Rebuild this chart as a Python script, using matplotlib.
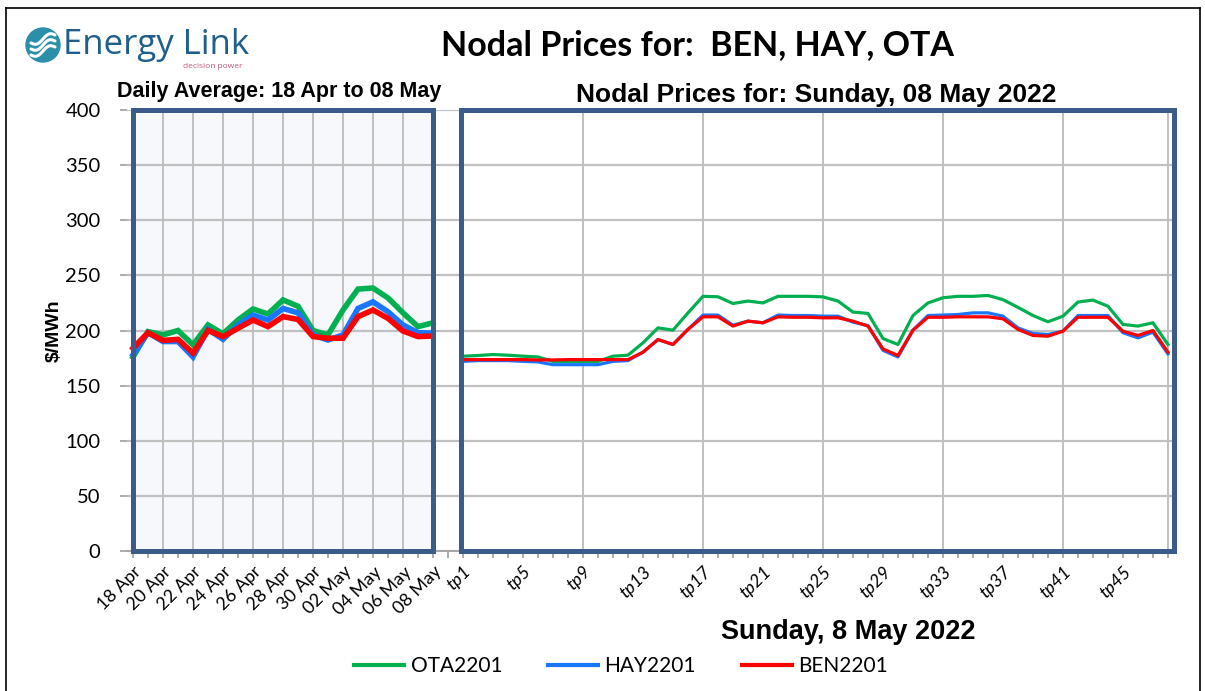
import matplotlib
matplotlib.use("Agg")
import matplotlib.pyplot as plt
from matplotlib.patches import Rectangle, Circle
from matplotlib.lines import Line2D
import numpy as np

# ---------------- data ----------------
day_labels = ['18 Apr', '19 Apr', '20 Apr', '21 Apr', '22 Apr', '23 Apr', '24 Apr',
              '25 Apr', '26 Apr', '27 Apr', '28 Apr', '29 Apr', '30 Apr', '01 May',
              '02 May', '03 May', '04 May', '05 May', '06 May', '07 May', '08 May']
day_ota = [176, 199, 196, 200, 187, 205, 197, 209.5, 219.5, 215, 227.7, 222, 200, 196,
           218.6, 237.6, 238.5, 229.5, 216, 203.5, 207]
day_hay = [178, 198, 190, 190, 176, 201, 192, 205, 214, 209.5, 220, 216, 196, 191.4,
           196, 220, 226, 217, 205, 198, 197.7]
day_ben = [184, 198, 191, 192, 179.5, 200, 194.5, 202, 209.5, 203.5, 212.6, 210, 194.5,
           193, 193, 212.6, 218.6, 211, 199.5, 194.5, 195]

tp_labels = ['tp%d' % i for i in range(1, 49)]
tp_ota = [176.7, 177.3, 178.2, 177.6, 176.7, 176, 172, 172, 172, 172, 176.7, 177.6,
          188.8, 202.4, 200.3, 216, 231, 230.6, 224.5, 226.7, 225, 231, 231, 231,
          230.5, 226.7, 216.7, 215.5, 192.7, 187.3, 213.6, 225, 229.7, 231, 231, 231.8,
          228, 221, 213.6, 207.9, 213, 225.8, 227.6, 222, 205.5, 204, 207, 187.3]
tp_hay = [172, 172.7, 172.7, 172.7, 172, 171.5, 169, 169, 169, 169, 172, 172.7,
          180.3, 191.8, 187.3, 201, 214, 214, 204.8, 208.5, 207, 214, 213.6, 213.6,
          213, 213, 207.6, 204.5, 182, 176, 200.3, 213.6, 214, 214.5, 216, 216,
          213, 202.4, 197.3, 196.4, 199.4, 213.6, 213.6, 213.6, 198, 193.3, 198.5, 178.8]
tp_ben = [173.6, 173.6, 173.6, 173.6, 173.6, 173.3, 173.3, 173.6, 173.6, 173.6, 173.6, 173.6,
          180.3, 191.8, 187.3, 201, 212.4, 212.4, 204, 208.5, 207, 212.4, 212, 212,
          211.5, 211.5, 208.5, 204, 183.3, 177.3, 200.3, 212, 212, 212.4, 212.4, 212.4,
          210.6, 201, 195.5, 194.8, 199.4, 212, 212, 212, 199.4, 195.5, 200, 180.3]

series_names = ['OTA2201', 'HAY2201', 'BEN2201']
colors = ['#00B050', '#1A75FF', '#FF0000']
y_ticks = [0, 50, 100, 150, 200, 250, 300, 350, 400]

# ---------------- figure ----------------
W, H = 1205, 691
fig = plt.figure(figsize=(W / 100, H / 100), dpi=100)

def fx(px):
    return px / W

def fy(py):
    return 1 - py / H

ax_left_px, ax_right_px = 127, 1175
ax_top_px, ax_bot_px = 110, 551
ax = fig.add_axes([fx(ax_left_px), fy(ax_bot_px), fx(ax_right_px - ax_left_px),
                   (ax_bot_px - ax_top_px) / H])

n_days = len(day_labels)
gap = 1
x_days = np.arange(n_days)
x_tp = np.arange(len(tp_labels)) + n_days + gap
n_total = n_days + gap + len(tp_labels)

ax.set_xlim(-0.4, n_total - 1 + 0.47)
ax.set_ylim(0, 400)

box_col = '#3B5B8A'
grid_col = '#C0C0C0'

# panel backgrounds
ax.add_patch(Rectangle((0, 0), n_days - 1, 400, facecolor='#F6F8FC', edgecolor='none', zorder=0))

# gridlines
for y in y_ticks:
    ax.axhline(y, color=grid_col, lw=1.6, zorder=1)
for x in range(2, n_days - 1, 2):
    ax.axvline(x, color=grid_col, lw=1.4, zorder=1)
for k in range(8, len(tp_labels), 8):
    ax.axvline(x_tp[k], color=grid_col, lw=1.4, zorder=1)
ax.axvline(x_tp[-1], color=grid_col, lw=1.4, zorder=1)

# lines
for vals, c in zip([day_ota, day_hay, day_ben], colors):
    ax.plot(x_days, vals, color=c, lw=4.0, solid_joinstyle='miter', zorder=3)
for vals, c in zip([tp_ota, tp_hay, tp_ben], colors):
    ax.plot(x_tp, vals, color=c, lw=2.3, zorder=3)

# panel borders
ax.add_patch(Rectangle((0, 0), n_days - 1, 400, facecolor='none', edgecolor=box_col,
                       lw=3.6, zorder=5, clip_on=False))
ax.add_patch(Rectangle((x_tp[0] - 0.13, 0), (x_tp[-1] + 0.4) - (x_tp[0] - 0.13), 400,
                       facecolor='none', edgecolor=box_col, lw=3.6, zorder=5, clip_on=False))

# axes styling
for s in ['top', 'right', 'left']:
    ax.spines[s].set_visible(False)
ax.spines['bottom'].set_color('#A6A6A6')
ax.spines['bottom'].set_linewidth(1.4)

ax.set_yticks(y_ticks)
ax.set_yticklabels([str(v) for v in y_ticks], fontsize=14.5, family=['Lato', 'DejaVu Sans'])
ax.tick_params(axis='y', length=5, width=1.3, color='#A6A6A6', pad=14)

xt = list(range(n_total))
ax.set_xticks(xt)
labels = [''] * n_total
for i in range(0, n_days, 2):
    labels[i] = day_labels[i]
for k in range(0, len(tp_labels), 4):
    labels[int(x_tp[k])] = tp_labels[k]
ax.set_xticklabels(labels, rotation=45, ha='right', rotation_mode='anchor', fontsize=13,
                   family=['Lato', 'DejaVu Sans'])
for i, t in enumerate(ax.get_xticklabels()):
    if i >= n_days:
        t.set_style('italic')
ax.tick_params(axis='x', length=5, width=1.3, color='#A6A6A6', pad=4)

ax.set_ylabel('$/MWh', fontsize=14, fontweight='bold', family=['Liberation Sans', 'DejaVu Sans'],
              labelpad=2)

# titles
fig.text(fx(697), fy(45), 'Nodal Prices for:  BEN, HAY, OTA', ha='center', va='center',
         fontsize=24.5, fontweight='bold', family=['Lato', 'DejaVu Sans'])
fig.text(fx(279), fy(91), 'Daily Average: 18 Apr to 08 May', ha='center', va='center',
         fontsize=15.5, fontweight='bold', family=['Liberation Sans', 'DejaVu Sans'])
fig.text(fx(816), fy(95), 'Nodal Prices for: Sunday, 08 May 2022', ha='center', va='center',
         fontsize=19, fontweight='bold', family=['Liberation Sans', 'DejaVu Sans'])
fig.text(fx(848), fy(632), 'Sunday, 8 May 2022', ha='center', va='center',
         fontsize=19.5, fontweight='bold', family=['Liberation Sans', 'DejaVu Sans'])

# legend
handles = [Line2D([0], [0], color=c, lw=3) for c in colors]
fig.legend(handles, series_names, loc='center', bbox_to_anchor=(fx(621), fy(666)), ncol=3,
           frameon=False, handlelength=2.4, columnspacing=2.2, handletextpad=0.3,
           prop={'family': ['Lato', 'DejaVu Sans'], 'size': 15})

# logo
lax = fig.add_axes([0, fy(80), fx(260), 80 / H])
lax.set_xlim(0, 260)
lax.set_ylim(80, 0)
lax.axis('off')
lax.add_patch(Circle((43, 45), 17, color='#2B8FA9'))
tt = np.linspace(-1, 1, 50)
for off in (-6, 0, 6):
    xs = 43 + tt * 12
    ys = 45 + off - 3 * np.sin(tt * np.pi) - tt * 4
    lax.plot(xs, ys, color='white', lw=2.2, solid_capstyle='round')
lax.text(63, 45, 'Energy Link', fontsize=25, color='#1F5F8B', va='center', ha='left',
         family=['Open Sans', 'DejaVu Sans'])
lax.text(213, 66, 'decision power', fontsize=6, color='#C4587E', va='center', ha='center',
         family=['Open Sans', 'DejaVu Sans'])

# outer border
fig.add_artist(Line2D([fx(6), fx(6)], [fy(8), fy(700)], color='black', lw=1.2))
fig.add_artist(Line2D([fx(6), fx(1200)], [fy(8), fy(8)], color='black', lw=1.2))
fig.add_artist(Line2D([fx(1200), fx(1200)], [fy(8), fy(700)], color='black', lw=1.2))

fig.savefig('out.png', dpi=100)
